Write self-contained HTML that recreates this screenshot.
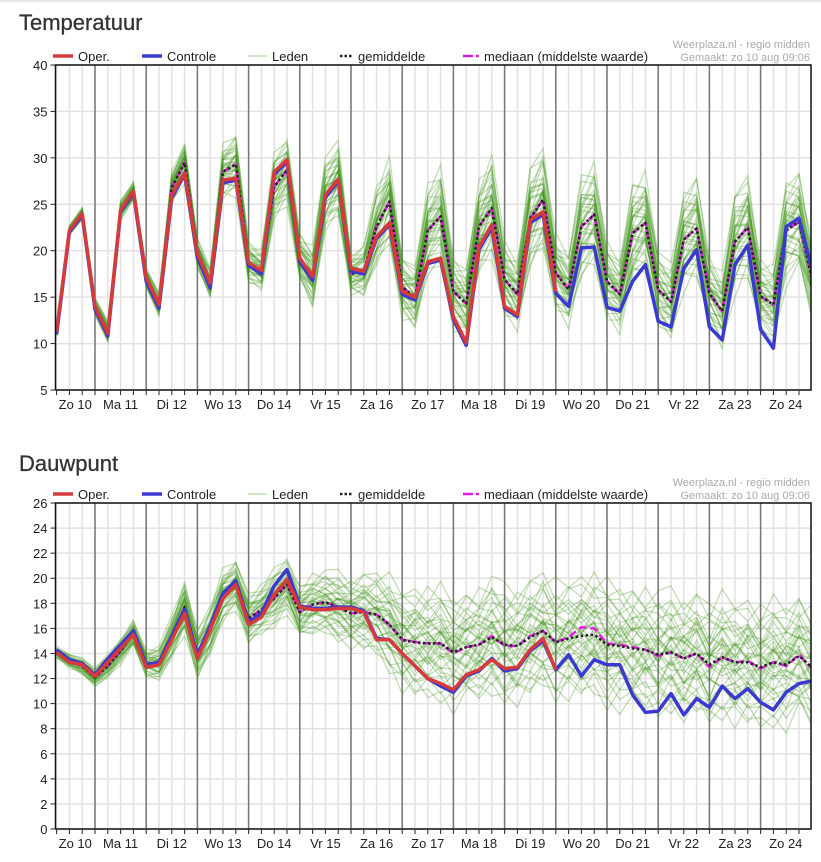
<!DOCTYPE html>
<html><head><meta charset="utf-8">
<style>
html,body{margin:0;padding:0;background:#fff;width:821px;height:862px;overflow:hidden;font-family:"Liberation Sans",sans-serif;}
#topbar{position:absolute;left:0;top:0;width:821px;height:3px;background:linear-gradient(#ddd,#fff);}
svg{position:absolute;left:0;top:0;}
</style></head><body>
<div id="topbar"></div>
<svg id="chart" width="821" height="862"></svg>
<script>
// ---- shared time axis ----
const dayLabels = ["Zo 10","Ma 11","Di 12","Wo 13","Do 14","Vr 15","Za 16","Zo 17","Ma 18","Di 19","Wo 20","Do 21","Vr 22","Za 23","Zo 24"];
// point hours relative to Ma 11 00:00, 6-hourly
const hours = [-18,-12,-6,0,6,12,18,24,30,36,42,48,54,60,66,72,78,84,90,96,102,108,114,120,126,132,138,144,150,156,162,168,174,180,186,192,198,204,210,216,222,228,234,240,246,252,258,264,270,276,282,288,294,300,306,312,318,324,330,336];

// ---- temperature ----
const tempOper = [11.3,22.2,24.0,14.0,11.1,24.4,26.4,17.1,14.2,26.0,28.4,19.7,16.5,27.6,27.8,18.7,17.9,28.5,29.8,19.2,17.2,26.0,27.7,18.1,17.8,21.5,23.0,15.6,15.0,18.8,19.2,12.9,10.1,20.4,22.8,14.0,13.1,23.3,24.2,15.6];
const tempCtrl = [11.0,22.0,23.8,13.7,10.8,24.2,26.2,16.7,13.8,25.7,28.2,19.3,16.0,27.3,27.6,18.4,17.5,28.2,29.6,18.8,16.8,25.7,27.5,17.8,17.5,21.3,22.8,15.3,14.7,18.6,19.0,12.6,9.8,20.1,22.5,13.8,12.9,23.0,23.9,15.4,14.0,20.3,20.4,13.9,13.5,16.7,18.5,12.4,11.8,18.1,20.1,11.8,10.4,18.5,20.6,11.5,9.5,22.6,23.5,18.0];
const tempMean = [11.3,22.2,24.0,14.0,11.3,24.4,26.4,17.1,14.2,26.8,29.5,19.7,16.5,28.5,29.3,18.7,17.9,26.9,28.7,19.2,17.2,26.0,27.7,17.5,17.8,22.6,25.3,16.1,15.0,22.2,23.7,15.6,14.3,22.6,24.6,16.9,15.3,23.5,25.5,17.6,15.8,22.6,23.9,16.7,15.3,21.9,23.0,15.8,14.5,21.2,22.4,15.4,13.5,21.0,22.5,15.1,14.2,22.2,23.1,17.0];
const tempSpread = [0.4,0.5,0.6,0.9,1.0,1.0,1.0,1.0,1.2,1.5,2.0,1.5,1.5,2.5,3.0,2.0,2.0,3.0,3.2,2.5,3.0,3.5,3.5,2.0,2.5,4.0,4.0,3.0,3.0,4.5,4.5,3.5,3.5,4.5,5.0,3.5,3.5,5.0,5.0,3.5,3.5,5.0,5.0,3.5,3.5,5.0,5.0,3.5,3.5,5.0,5.0,3.5,3.5,5.0,5.0,3.5,3.5,5.0,5.0,4.0];
const tempTicks = [5,10,15,20,25,30,35,40];

// ---- dew point ----
const dewOper = [14.1,13.3,13.1,12.2,13.3,14.4,15.5,12.9,13.1,15.1,17.2,13.6,15.9,18.4,19.5,16.3,16.9,18.7,19.9,17.7,17.5,17.5,17.6,17.6,17.3,15.1,15.1,14.0,13.0,12.0,11.6,11.1,12.3,12.7,13.5,12.8,12.9,14.3,15.2,12.7];
const dewCtrl = [14.3,13.5,13.2,12.3,13.6,14.7,15.8,13.1,13.3,15.4,17.5,13.9,16.2,18.8,19.8,16.5,17.2,19.4,20.7,17.8,17.6,17.6,17.7,17.7,17.4,15.2,15.1,14.0,13.0,12.0,11.4,10.9,12.2,12.6,13.6,12.6,12.8,14.2,15.0,12.7,13.9,12.2,13.5,13.1,13.1,10.7,9.3,9.4,10.8,9.1,10.4,9.7,11.4,10.4,11.2,10.1,9.5,10.9,11.6,11.8];
const dewMean = [14.1,13.4,13.0,12.1,13.0,14.2,15.6,13.2,13.2,15.3,17.7,13.9,15.8,18.6,19.5,16.8,17.5,18.4,19.5,17.3,17.9,18.1,17.7,17.2,17.3,17.1,16.3,15.1,14.9,14.8,14.8,14.1,14.5,14.7,15.3,14.7,14.6,15.3,15.8,14.9,15.2,15.4,15.5,14.7,14.6,14.4,14.3,13.9,14.1,13.6,14.0,13.1,13.7,13.3,13.3,12.9,13.3,13.1,13.8,12.9];
const dewMedian = [14.1,13.4,13.0,12.1,13.0,14.2,15.6,13.2,13.2,15.3,17.7,13.9,15.8,18.6,19.5,16.8,17.5,18.4,19.5,17.3,17.9,18.1,17.7,17.2,17.3,17.1,16.3,15.1,14.9,14.8,14.8,14.0,14.5,14.7,15.4,14.6,14.6,15.4,15.8,14.9,15.3,16.1,16.0,14.8,14.7,14.5,14.3,13.8,14.1,13.6,14.0,12.9,13.7,13.3,13.4,12.8,13.3,13.0,13.9,12.8];
const dewSpread = [0.4,0.5,0.6,0.7,0.8,0.9,1.0,1.0,1.2,1.5,2.0,1.8,1.8,1.8,1.8,1.8,1.8,2.0,2.0,2.0,2.2,2.2,2.5,2.5,2.8,3.0,3.4,3.6,3.8,4.0,4.0,4.0,4.0,4.0,4.2,4.2,4.2,4.2,4.2,4.2,4.2,4.2,4.4,4.4,4.4,4.4,4.4,4.4,4.4,4.4,4.4,4.4,4.4,4.4,4.4,4.4,4.4,4.4,4.4,4.4];
const dewTicks = [0,2,4,6,8,10,12,14,16,18,20,22,24,26];

// ---- ensemble member placement (fixed levels & wiggles) ----
const memberLevels = [-1.0,-0.85,-0.7,-0.6,-0.5,-0.4,-0.3,-0.22,-0.15,-0.08,0,0.05,0.12,0.2,0.28,0.36,0.45,0.55,0.65,0.78,0.9,1.0,-0.95,-0.55,-0.25,0.1,0.4,0.7,-0.35,0.25,-0.12,0.02,0.15,-0.45,0.5,-0.75,0.32,-0.02];
const memberWiggle = [0.3,-0.5,0.6,-0.2,0.1,-0.6,0.4,0.5,-0.3,0.2,-0.4,0.6,-0.1];

const NS="http://www.w3.org/2000/svg";
const svg=document.getElementById('chart');
function el(tag,attrs,parent){const e=document.createElementNS(NS,tag);for(const k in attrs)e.setAttribute(k,attrs[k]);(parent||svg).appendChild(e);return e;}

const X0=95, DAYW=51.2, LEFT=55.5, RIGHT=811;
function xScale(h){return X0+h*DAYW/24;}

function drawChart(cfg){
  const g=el('g',{});
  
  
  const yS=v=>cfg.yBottom-(v-cfg.min)*(cfg.yBottom-cfg.yTop)/(cfg.max-cfg.min);
  const t=el('text',{x:19,y:cfg.titleY,'font-size':'22','fill':'#333','stroke':'#333','stroke-width':'0.3','font-family':'"Liberation Sans",sans-serif'},g);
  t.textContent=cfg.title;
  
  
  for(let h=-18;h<=336;h+=6){
    const x=xScale(h); if(x<LEFT||x>RIGHT)continue;
    const l=el('line',{x1:x,x2:x,y1:cfg.yTop,y2:cfg.yBottom,stroke:'#e2e2e2','stroke-width':1.5},g);
    
    
    const tk=el('line',{x1:x,x2:x,y1:cfg.yBottom,y2:cfg.yBottom+5,stroke:'#222','stroke-width':1},g);
    
    
  }
  cfg.ticks.forEach(v=>{
    const y=yS(v);
    const l=el('line',{x1:LEFT,x2:RIGHT,y1:y,y2:y,stroke:'#e2e2e2','stroke-width':1.5},g);
    
    
    const tk=el('line',{x1:LEFT-5,x2:LEFT,y1:y,y2:y,stroke:'#222','stroke-width':1},g);
    
    
    const tx=el('text',{x:LEFT-8,y:y+5,'font-size':'13','text-anchor':'end',fill:'#222'},g);
    tx.textContent=v;
    
    
  });
  dayLabels.forEach((d,i)=>{
    const xs=xScale((i-1)*24), xe=xScale(i*24);
    if(i>0){
      const l=el('line',{x1:xs,x2:xs,y1:cfg.yTop,y2:cfg.yBottom,stroke:'#777','stroke-width':1.5},g);
      
      
    }
    const cx=(Math.max(xs,LEFT)+Math.min(xe,RIGHT))/2;
    const tx=el('text',{x:cx,y:cfg.yBottom+19,'font-size':'13','text-anchor':'middle',fill:'#222'},g);
    tx.textContent=d;
    
    
  });
  const clipId='clip'+cfg.name;
  const cp=el('clipPath',{id:clipId},g); el('rect',{x:LEFT,y:cfg.yTop,width:RIGHT-LEFT,height:cfg.yBottom-cfg.yTop},cp);
  const series=el('g',{'clip-path':'url(#'+clipId+')'},g);
  memberLevels.forEach((lv,k)=>{
    const pts=cfg.mean.map((m,i)=>{const w=memberWiggle[(i+k*3)%memberWiggle.length];return xScale(hours[i])+','+yS(m+(lv+w*0.4)*cfg.spread[i]);}).join(' ');
    const p=el('polyline',{points:pts,fill:'none',stroke:'rgba(55,145,15,0.3)','stroke-width':1.3},series);
    
    
  });
  const line=(arr,attrs,name)=>{const p=el('polyline',Object.assign({points:arr.map((v,i)=>xScale(hours[i])+','+yS(v)).join(' '),fill:'none','stroke-linejoin':'round'},attrs),series);};
  line(cfg.median,{stroke:'#e020e0','stroke-width':2.5,'stroke-dasharray':'8,4'},'median-line');
  line(cfg.mean,{stroke:'#222','stroke-width':2.5,'stroke-dasharray':'2.5,2.5'},'mean-line');
  line(cfg.ctrl,{stroke:'#3a3ad0','stroke-width':3.5},'control-line');
  line(cfg.oper,{stroke:'#d63a3a','stroke-width':3.5},'oper-line');
  const fr=el('path',{d:`M${LEFT},${cfg.yBottom} L${LEFT},${cfg.yTop} L${RIGHT},${cfg.yTop} L${RIGHT},${cfg.yBottom} L${LEFT},${cfg.yBottom}`,fill:'none',stroke:'#111','stroke-width':1.5},g);
  
  
  const ly=cfg.yTop-9;
  const lg=el('g',{},g);
  
  
  const items=[
    {x:53,w:20,stroke:'#d63a3a',sw:3.5,da:null,label:'Oper.',n:'legend-oper'},
    {x:142,w:20,stroke:'#3a3ad0',sw:3.5,da:null,label:'Controle',n:'legend-controle'},
    {x:248,w:19,stroke:'#bfe0b0',sw:1.5,da:null,label:'Leden',n:'legend-leden'},
    {x:340,w:13,stroke:'#222',sw:2.5,da:'2.5,2',label:'gemiddelde',n:'legend-gemiddelde'},
    {x:463,w:16,stroke:'#e020e0',sw:2.5,da:'10,3',label:'mediaan (middelste waarde)',n:'legend-mediaan'}];
  items.forEach(it=>{
    const ig=el('g',{},lg);
    
    
    const a={x1:it.x,x2:it.x+it.w,y1:ly,y2:ly,stroke:it.stroke,'stroke-width':it.sw};
    if(it.da)a['stroke-dasharray']=it.da;
    el('line',a,ig);
    const tx=el('text',{x:it.x+it.w+5,y:ly+5,'font-size':'13',fill:'#222'},ig);
    tx.textContent=it.label;
  });
  const s1=el('text',{x:810,y:cfg.yTop-17,'font-size':'11','text-anchor':'end',fill:'#aaa'},g);
  s1.textContent='Weerplaza.nl - regio midden';
  
  
  const s2=el('text',{x:810,y:cfg.yTop-4,'font-size':'11','text-anchor':'end',fill:'#aaa'},g);
  s2.textContent='Gemaakt: zo 10 aug 09:06';
  
  
}
drawChart({name:'temperatuur',title:'Temperatuur',titleY:30,yTop:65,yBottom:390,min:5,max:40,ticks:tempTicks,oper:tempOper,ctrl:tempCtrl,mean:tempMean,median:tempMean,spread:tempSpread});
drawChart({name:'dauwpunt',title:'Dauwpunt',titleY:471,yTop:503,yBottom:829,min:0,max:26,ticks:dewTicks,oper:dewOper,ctrl:dewCtrl,mean:dewMean,median:dewMedian,spread:dewSpread});
</script>
</body></html>
